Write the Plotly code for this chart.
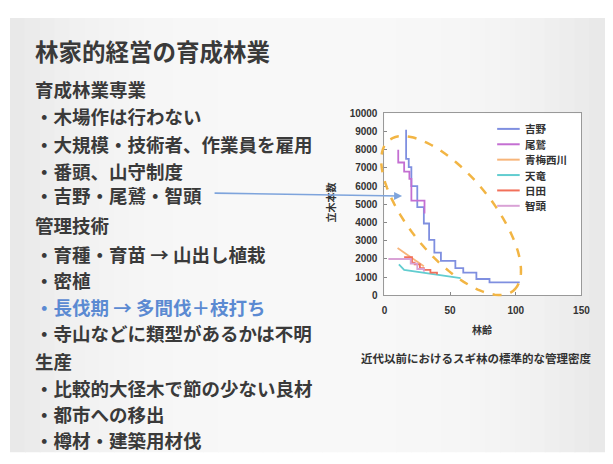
import numpy as np
import plotly.graph_objects as go

# the page keeps an 8px body margin at top and left, so the figure is drawn 8px smaller
OFF = 8
W, H = 613 - OFF, 464 - OFF
DX = 6  # small nudge for the chart block

# stand density (trees/ha) against stand age
yoshino_age = [16.5, 16.5, 18.5, 20.5, 25, 30, 34, 38, 43, 54, 60, 70, 80, 103]
yoshino_n = [9100, 7500, 7050, 6000, 4850, 3950, 3050, 2350, 1900, 1500, 1250, 900, 720, 720]
owase_age = [10.5, 10.5, 15, 19, 20.5, 30.5, 30.5]
owase_n = [8000, 7300, 6800, 6400, 5200, 5200, 4500]
ome_age = [10, 20, 30]
ome_n = [2600, 2100, 1600]
tenryu_age = [11, 15, 58]
tenryu_n = [1700, 1400, 950]
hita_age = [15, 21, 23, 27, 30, 35, 40]
hita_n = [2100, 1800, 1700, 1500, 1400, 1250, 1150]
chizu_age = [3, 15, 20, 25, 30]
chizu_n = [2000, 2000, 1750, 1450, 1300]

x_ticks = [0, 50, 100, 150]

slide_lines = [
    ("育成林業専業", "#3a3a3a"),
    ("・木場作は行わない", "#3a3a3a"),
    ("・大規模・技術者、作業員を雇用", "#3a3a3a"),
    ("・番頭、山守制度", "#3a3a3a"),
    ("・吉野・尾鷲・智頭", "#3a3a3a"),
    ("管理技術", "#3a3a3a"),
    ("・育種・育苗 → 山出し植栽", "#3a3a3a"),
    ("・密植", "#3a3a3a"),
    ("・長伐期 → 多間伐＋枝打ち", "#5b8ad2"),
    ("・寺山などに類型があるかは不明", "#3a3a3a"),
    ("生産", "#3a3a3a"),
    ("・比較的大径木で節の少ない良材", "#3a3a3a"),
    ("・都市への移出", "#3a3a3a"),
    ("・樽材・建築用材伐", "#3a3a3a"),
]
line_y = [85, 113, 141, 169, 194, 225, 254, 281, 309, 336, 364, 392, 419, 446]

JP = "Noto Sans CJK JP"


def px(x):
    return (x - OFF) / W


def py(y):
    return 1 - (y - OFF) / H


def cx(x):
    return px(x + DX)


fig = go.Figure()

series = [
    ("吉野", yoshino_age, yoshino_n, "#7f8fe0", "hv"),
    ("尾鷲", owase_age, owase_n, "#c46fd2", "hv"),
    ("青梅西川", ome_age, ome_n, "#f7b57a", "linear"),
    ("天竜", tenryu_age, tenryu_n, "#62cdd0", "linear"),
    ("日田", hita_age, hita_n, "#f2705a", "hv"),
    ("智頭", chizu_age, chizu_n, "#d9a2d6", "hv"),
]
for name, xs, ys, col, shape in series:
    fig.add_trace(go.Scatter(x=xs, y=ys, name=name, mode="lines", showlegend=False,
                             line=dict(color=col, width=1.8, shape=shape)))

shapes = []
# slide panel with a soft horizontal shading
edges = np.linspace(7, 613, 41)
for x0, x1 in zip(edges[:-1], edges[1:]):
    t = ((x0 + x1) / 2 - 7) / (613 - 7)
    g = int(round(248 - 16 * abs(2 * t - 1) ** 3))
    shapes.append(dict(type="rect", xref="paper", yref="paper", layer="below",
                       x0=px(x0), x1=px(x1) + 0.002, y0=py(458), y1=py(12),
                       line=dict(width=0), fillcolor=f"rgb({g},{g},{g})"))
shapes.append(dict(type="rect", xref="x domain", yref="y domain", layer="below",
                   x0=0, x1=1, y0=0, y1=1, line=dict(width=0), fillcolor="white"))

# dashed orange ellipse drawn round the dense-planting curves
ecx, ecy, a, b = 451, 215, 100, 42
ux, uy = 0.635, 0.772
t = np.linspace(0, 2 * np.pi, 90)
ex = ecx + a * np.cos(t) * ux + b * np.sin(t) * uy
ey = ecy + a * np.cos(t) * uy - b * np.sin(t) * ux
path = "M " + " L ".join(f"{cx(x):.4f},{py(y):.4f}" for x, y in zip(ex, ey)) + " Z"
shapes.append(dict(type="path", xref="paper", yref="paper", path=path,
                   line=dict(color="#f2b544", width=2.5, dash="dash")))

annotations = [
    dict(text="<b>林家的経営の育成林業</b>", x=px(30), y=py(46), xref="paper", yref="paper",
         xanchor="left", yanchor="middle", showarrow=False,
         font=dict(family=JP, size=23.5, color="#3a3a3a")),
]
for (txt, col), yy in zip(slide_lines, line_y):
    annotations.append(dict(text=f"<b>{txt}</b>", x=px(30), y=py(yy), xref="paper", yref="paper",
                            xanchor="left", yanchor="middle", showarrow=False,
                            font=dict(family=JP, size=18.5, color=col)))

# legend drawn by hand so the rows sit as tightly as on the slide
for i, (name, xs, ys, col, shape) in enumerate(series):
    ly = 126 + i * 15.8
    shapes.append(dict(type="line", xref="paper", yref="paper",
                       x0=cx(498), x1=cx(521), y0=py(ly), y1=py(ly),
                       line=dict(color=col, width=2)))
    annotations.append(dict(text=f"<b>{name}</b>", x=cx(524), y=py(ly), xref="paper", yref="paper",
                            xanchor="left", yanchor="middle", showarrow=False,
                            font=dict(family=JP, size=10.5, color="#333")))

annotations += [
    dict(text="<b>林齢</b>", x=cx(483), y=py(332), xref="paper", yref="paper",
         xanchor="center", yanchor="middle", showarrow=False,
         font=dict(family=JP, size=10, color="#333")),
    dict(text="<b>立木本数</b>", x=cx(328), y=py(202), xref="paper", yref="paper",
         xanchor="center", yanchor="middle", showarrow=False, textangle=-90,
         font=dict(family=JP, size=10, color="#333")),
    dict(text="<b>近代以前におけるスギ林の標準的な管理密度</b>", x=cx(476), y=py(361),
         xref="paper", yref="paper", xanchor="center", yanchor="middle", showarrow=False,
         font=dict(family=JP, size=11.5, color="#333")),
    dict(text="", x=cx(401), y=py(195), xref="paper", yref="paper",
         ax=-(401 + DX - 218), ay=-3, axref="pixel", ayref="pixel", showarrow=True,
         arrowhead=2, arrowsize=1, arrowwidth=1.6, arrowcolor="#7ea4dc"),
]

tickfont = dict(family="Liberation Sans", size=10, color="#333", weight="bold")
fig.update_layout(
    width=W, height=H,
    margin=dict(l=0, r=0, t=0, b=0),
    paper_bgcolor="white",
    plot_bgcolor="white",
    showlegend=False,
    xaxis=dict(domain=[cx(383), cx(584)], range=[0, 150], tickvals=x_ticks,
               ticks="inside", ticklen=3, tickcolor="#888", showline=True, mirror=True,
               linecolor="#999", linewidth=1, showgrid=False, zeroline=False,
               tickfont=tickfont, ticklabelstandoff=6),
    yaxis=dict(domain=[py(297), py(110)], range=[0, 10000], dtick=1000, tickformat="d",
               ticks="inside", ticklen=3, tickcolor="#888", showline=True, mirror=True,
               linecolor="#999", linewidth=1, showgrid=False, zeroline=False,
               tickfont=tickfont, ticklabelstandoff=4),
    shapes=shapes,
    annotations=annotations,
)

fig.write_html("out.html")
